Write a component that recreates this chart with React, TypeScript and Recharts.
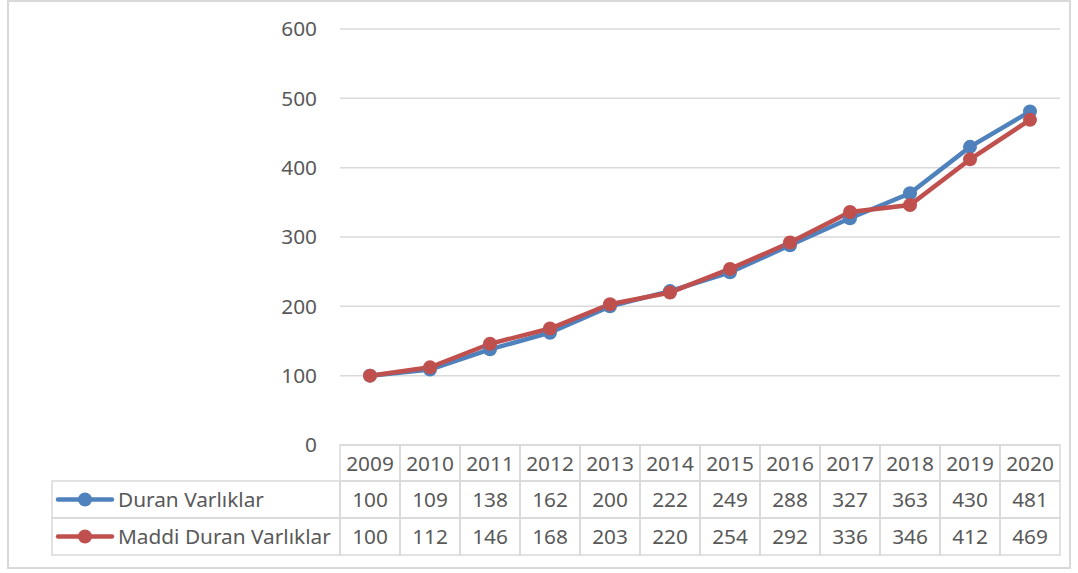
import React from "react";
import { LineChart, Line, XAxis, YAxis, CartesianGrid } from "recharts";

const years = ["2009", "2010", "2011", "2012", "2013", "2014", "2015", "2016", "2017", "2018", "2019", "2020"];
const duranVarliklar = [100, 109, 138, 162, 200, 222, 249, 288, 327, 363, 430, 481];
const maddiDuranVarliklar = [100, 112, 146, 168, 203, 220, 254, 292, 336, 346, 412, 469];
const yTicks = [0, 100, 200, 300, 400, 500, 600];

const seriesNames = ["Duran Varlıklar", "Maddi Duran Varlıklar"];
const seriesColors = ["#4F81BD", "#C0504D"];

const data = years.map((year, i) => ({
  year,
  duran: duranVarliklar[i],
  maddi: maddiDuranVarliklar[i],
}));

const FONT = "'Noto Sans', 'Open Sans', sans-serif";
const FS = 20.8;
const TEXT = "#595959";
const BORDER = "#D9D9D9";
const CELL_W = 60;
const ROW_H = [36, 37, 37];
const LEGEND_LEFT = 52;

// draws one column of the data table under each category (plus the legend column once)
function TableTick(props: any) {
  const { x, y, index } = props;
  const left = x - CELL_W / 2;
  const rows = [years[index], duranVarliklar[index], maddiDuranVarliklar[index]];
  let top = y;
  const cells: React.ReactNode[] = [];
  rows.forEach((val, r) => {
    cells.push(
      <g key={r}>
        <rect x={left} y={top} width={CELL_W} height={ROW_H[r]} fill="none" stroke={BORDER} strokeWidth={1.5} />
        <text x={x} y={top + ROW_H[r] / 2 + 7.5} textAnchor="middle" fill={TEXT} fontSize={FS} fontFamily={FONT}>
          {val}
        </text>
      </g>
    );
    top += ROW_H[r];
  });

  let legend: React.ReactNode = null;
  if (index === 0) {
    let ly = y + ROW_H[0];
    legend = (
      <g>
        {seriesNames.map((name, s) => {
          const h = ROW_H[s + 1];
          const cy = ly + h / 2;
          const el = (
            <g key={name}>
              <rect x={LEGEND_LEFT} y={ly} width={left - LEGEND_LEFT} height={h} fill="none" stroke={BORDER} strokeWidth={1.5} />
              <line x1={58} x2={112} y1={cy} y2={cy} stroke={seriesColors[s]} strokeWidth={4.5} strokeLinecap="round" />
              <circle cx={85} cy={cy} r={7} fill={seriesColors[s]} />
              <text x={118} y={cy + 7.5} fill={TEXT} fontSize={FS} fontFamily={FONT}>
                {name}
              </text>
            </g>
          );
          ly += h;
          return el;
        })}
      </g>
    );
  }

  return (
    <g>
      {legend}
      {cells}
    </g>
  );
}

export default function App() {
  return (
    <div style={{ position: "absolute", left: 0, top: 0, width: 1078, height: 573, background: "#fff" }}>
      <LineChart
        width={1078}
        height={573}
        data={data}
        margin={{ top: 29, right: 18, left: 0, bottom: 0 }}
      >
        <CartesianGrid vertical={false} stroke={BORDER} strokeWidth={1.5} />
        <XAxis
          dataKey="year"
          padding={{ left: CELL_W / 2, right: CELL_W / 2 }}
          axisLine={false}
          tickLine={false}
          tickSize={0}
          tickMargin={0}
          height={128}
          interval={0}
          tick={<TableTick />}
        />
        <YAxis
          domain={[0, 600]}
          ticks={yTicks}
          width={340}
          axisLine={false}
          tickLine={false}
          tickSize={0}
          tickMargin={23}
          tick={{ fill: TEXT, fontSize: FS, fontFamily: FONT }}
        />
        <Line
          dataKey="duran"
          name={seriesNames[0]}
          stroke={seriesColors[0]}
          strokeWidth={4.5}
          dot={{ r: 7, fill: seriesColors[0], stroke: "none" }}
          isAnimationActive={false}
        />
        <Line
          dataKey="maddi"
          name={seriesNames[1]}
          stroke={seriesColors[1]}
          strokeWidth={4.5}
          dot={{ r: 7, fill: seriesColors[1], stroke: "none" }}
          isAnimationActive={false}
        />
      </LineChart>
      <div
        style={{
          position: "absolute",
          left: 7,
          top: 0,
          width: 1064,
          height: 569,
          border: `2px solid ${BORDER}`,
          boxSizing: "border-box",
          pointerEvents: "none",
        }}
      />
    </div>
  );
}
